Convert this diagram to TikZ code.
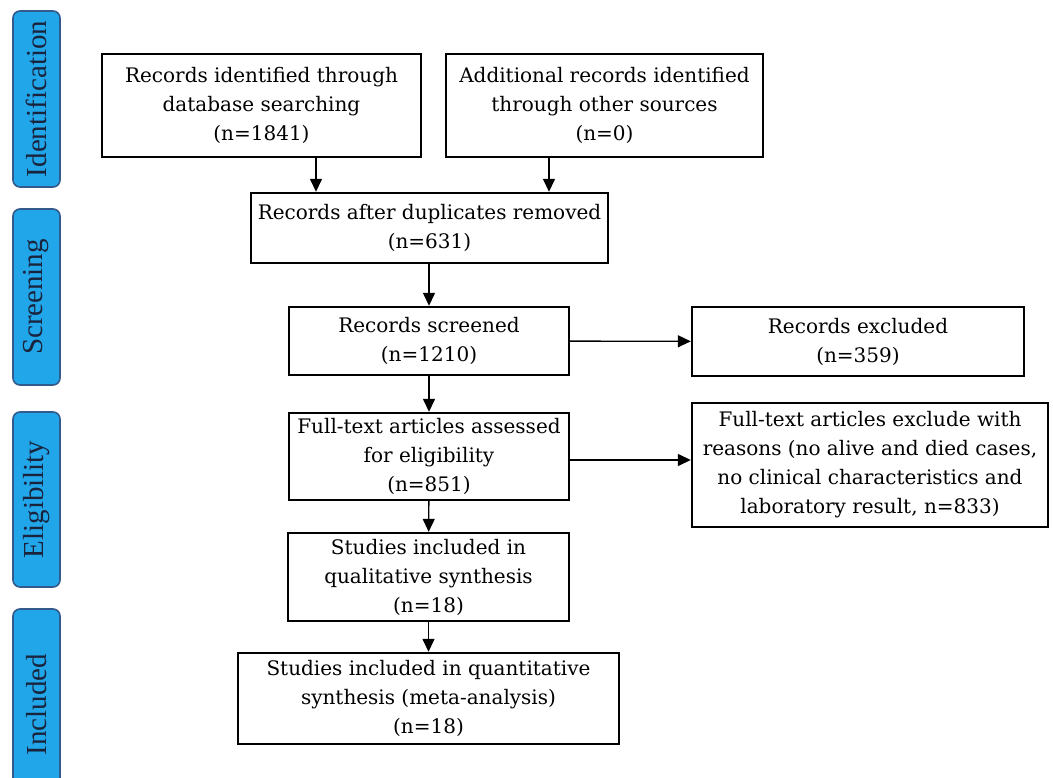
\documentclass[tikz,border=0pt]{standalone}
\usepackage{fontspec}
\setmainfont{DejaVu Serif}
\newfontfamily\tabfont{Liberation Serif}
\usetikzlibrary{arrows.meta}

\definecolor{tabfill}{RGB}{33,166,234}
\definecolor{tabline}{RGB}{50,90,140}
\definecolor{tabtext}{RGB}{25,35,60}

\begin{document}
\begin{tikzpicture}[x=1pt,y=-1pt,
    box/.style={draw,line width=2.4pt,align=center,inner xsep=0pt,
      font=\fontsize{20}{29}\selectfont},
    tab/.style={draw=tabline,fill=tabfill,line width=1.6pt,rounded corners=7pt,
      rotate=90,minimum height=47pt,text=tabtext,
      font=\tabfont\fontsize{29}{32}\selectfont},
    arr/.style={line width=1.4pt,-{Triangle[length=13pt,width=12pt]}}]
  \clip (0,0) rectangle (1053,778);

  % phase tabs
  \node[tab,minimum width=176pt] (ident) at (36.5,99) {Identification};
  \node[tab,minimum width=176pt] (screen) at (36.5,297) {Screening};
  \node[tab,minimum width=175pt] (elig) at (36.5,499.5) {Eligibility};
  \node[tab,minimum width=191pt] (incl) at (36.5,704.5) {Included};

  % boxes
  \node[box,minimum width=319pt,minimum height=103pt] (db) at (261.5,105.5)
    {Records identified through\\database searching\\(n=1841)};
  \node[box,minimum width=317pt,minimum height=103pt] (other) at (604.5,105.5)
    {Additional records identified\\through other sources\\(n=0)};
  \node[box,minimum width=357pt,minimum height=70pt] (dup) at (429.5,228)
    {Records after duplicates removed\\(n=631)};
  \node[box,minimum width=280pt,minimum height=68pt] (scr) at (429,341)
    {Records screened\\(n=1210)};
  \node[box,minimum width=332pt,minimum height=69pt] (excl) at (858,341.5)
    {Records excluded\\(n=359)};
  \node[box,minimum width=280pt,minimum height=87pt] (full) at (429,456.5)
    {Full-text articles assessed\\for eligibility\\(n=851)};
  \node[box,minimum width=356pt,minimum height=124pt] (reas) at (870,465)
    {Full-text articles exclude with\\reasons (no alive and died cases,\\no clinical characteristics and\\laboratory result, n=833)};
  \node[box,minimum width=281pt,minimum height=88pt] (qual) at (428.5,577)
    {Studies included in\\qualitative synthesis\\(n=18)};
  \node[box,minimum width=381pt,minimum height=91pt] (quant) at (428.5,698.5)
    {Studies included in quantitative\\synthesis (meta-analysis)\\(n=18)};

  % arrows
  \draw[arr] ([xshift=54.5pt]db.south) -- ([xshift=54.5pt]db.south |- dup.north);
  \draw[arr] ([xshift=-55.5pt]other.south) -- ([xshift=-55.5pt]other.south |- dup.north);
  \draw[arr] (dup.south -| scr.north) -- (scr.north);
  \draw[arr] (scr) -- (excl);
  \draw[arr] (scr) -- (full);
  \draw[arr] ([yshift=-3.5pt]full.east) -- ([yshift=-3.5pt]full.east -| reas.west);
  \draw[arr] (full) -- (qual);
  \draw[arr] (qual) -- (quant);
\end{tikzpicture}
\end{document}
